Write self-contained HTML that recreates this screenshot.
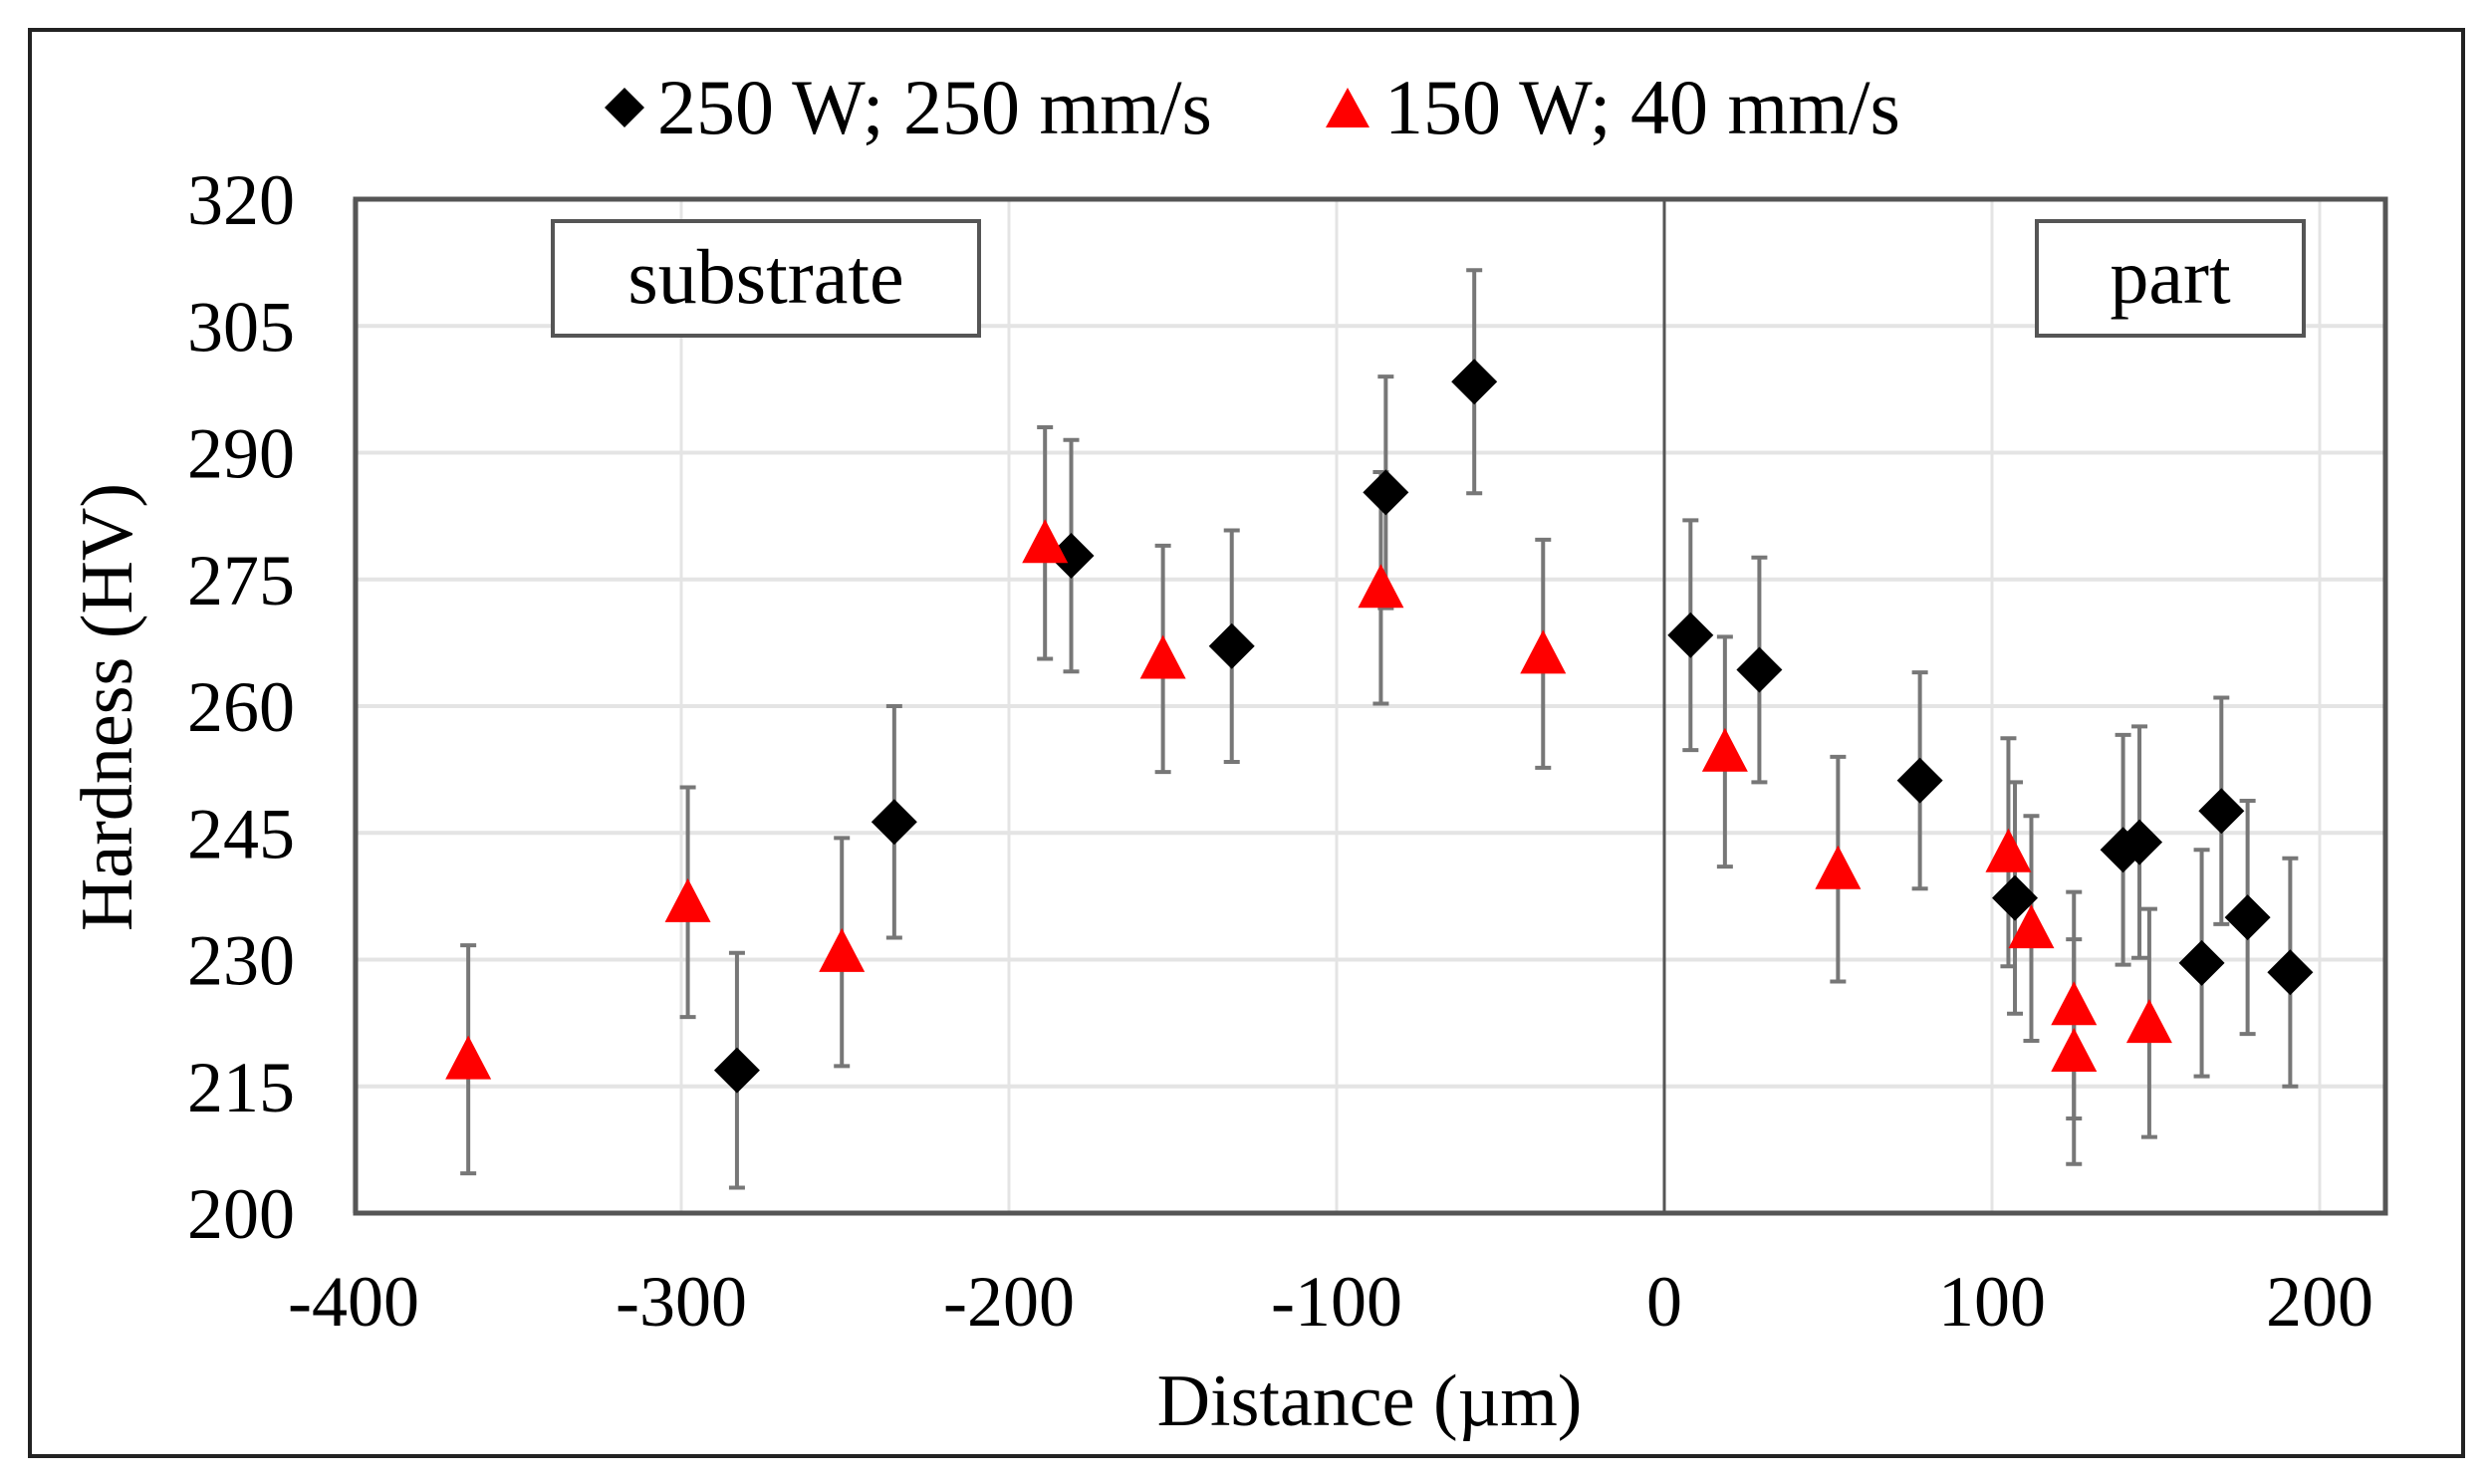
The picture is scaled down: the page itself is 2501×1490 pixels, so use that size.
<!DOCTYPE html>
<html><head><meta charset="utf-8"><style>
html,body{margin:0;padding:0;background:#fff}
svg{display:block;font-family:"Liberation Serif",serif}
</style></head><body>
<svg id="chart" width="2501" height="1490" viewBox="0 0 2501 1490">
<rect x="30" y="30" width="2443" height="1432" fill="#fff" stroke="#222" stroke-width="4"/>
<g id="grid"></g>
<g id="axes"></g>
<rect x="555" y="222" width="428" height="115" fill="#fff" stroke="#555" stroke-width="4"/>
<text x="769" y="304" font-size="78" text-anchor="middle">substrate</text>
<rect x="2045" y="222" width="268" height="115" fill="#fff" stroke="#555" stroke-width="4"/>
<text x="2179" y="304" font-size="78" text-anchor="middle">part</text>
<g id="series"></g>
<g>
<path d="M627,88 L647,108 L627,128 L607,108 Z" fill="#000"/>
<text x="660" y="134" font-size="78">250 W; 250 mm/s</text>
<path d="M1353,88 L1375,128 L1331,128 Z" fill="#f00"/>
<text x="1390" y="134" font-size="78">150 W; 40 mm/s</text>
</g>
<text x="1375" y="1431" font-size="74" text-anchor="middle">Distance (µm)</text>
<text transform="translate(132,710) rotate(-90)" font-size="74" text-anchor="middle">Hardness (HV)</text>
</svg>
<script>
const xTicks=[-400,-300,-200,-100,0,100,200];
const yTicks=[200,215,230,245,260,275,290,305,320];
const blackX=[-283,-235,-181,-132,-85,-58,8,29,78,107,140,145,164,170,178,191];
const blackY=[216.9,246.3,277.8,267.1,285.3,298.4,268.4,264.3,251.2,237.3,243,243.9,229.6,247.6,235,228.5];
const blackErr=[13.9,13.7,13.7,13.7,13.7,13.2,13.6,13.3,12.8,13.7,13.6,13.7,13.4,13.4,13.8,13.5];
const redX=[-365,-298,-251,-189,-153,-86.5,-37,18.5,53,105,112,125,125,148];
const redY=[218.2,236.8,230.9,279.3,265.6,274,266.2,254.6,240.7,242.7,233.7,224.6,219.1,222.5];
const redErr=[13.5,13.6,13.5,13.7,13.4,13.7,13.5,13.6,13.3,13.5,13.3,13.4,13.3,13.5];
const L=357,R=2395,T=200,B=1218;
const xs=v=>1671+(v)*3.29;
const ys=v=>B-(v-200)*(B-T)/120;
const NS='http://www.w3.org/2000/svg';
function mk(tag,attrs,parent){const e=document.createElementNS(NS,tag);for(const k in attrs)e.setAttribute(k,attrs[k]);parent.appendChild(e);return e;}
const grid=document.getElementById('grid'),axes=document.getElementById('axes'),ser=document.getElementById('series');
xTicks.forEach(t=>{
 const l=mk('line',{x1:xs(t),x2:xs(t),y1:T,y2:B,stroke:'#e4e4e4','stroke-width':3},grid);
 
 
 const tx=mk('text',{x:xs(t),y:1331,'font-size':72,'text-anchor':'middle'},axes);
 tx.textContent=t;
 
 
});
yTicks.forEach(t=>{
 const l=mk('line',{x1:L,x2:R,y1:ys(t),y2:ys(t),stroke:'#e4e4e4','stroke-width':4},grid);
 
 
 const tx=mk('text',{x:296,y:ys(t)+25,'font-size':72,'text-anchor':'end'},axes);
 tx.textContent=t;
 
 
});
const fr=mk('rect',{x:L,y:T,width:R-L,height:B-T,fill:'none',stroke:'#555','stroke-width':5},axes);


const zl=mk('line',{x1:xs(0),x2:xs(0),y1:T,y2:B,stroke:'#555','stroke-width':3},axes);


function errbar(x,y,e){
 const g=mk('g',{stroke:'#777','stroke-width':4},ser);
 
 
 mk('line',{x1:xs(x),x2:xs(x),y1:ys(y+e),y2:ys(y-e)},g);
 mk('line',{x1:xs(x)-8,x2:xs(x)+8,y1:ys(y+e),y2:ys(y+e)},g);
 mk('line',{x1:xs(x)-8,x2:xs(x)+8,y1:ys(y-e),y2:ys(y-e)},g);
}
blackX.forEach((x,i)=>errbar(x,blackY[i],blackErr[i]));
redX.forEach((x,i)=>errbar(x,redY[i],redErr[i]));
blackX.forEach((x,i)=>{
 const cx=xs(x),cy=ys(blackY[i]);
 const p=mk('path',{d:`M${cx},${cy-23} L${cx+23},${cy} L${cx},${cy+23} L${cx-23},${cy} Z`,fill:'#000'},ser);
 
 
});
redX.forEach((x,i)=>{
 const cx=xs(x),cy=ys(redY[i]);
 const p=mk('path',{d:`M${cx},${cy-24} L${cx+23},${cy+20} L${cx-23},${cy+20} Z`,fill:'#f00'},ser);
 
 
});
</script>
</body></html>
